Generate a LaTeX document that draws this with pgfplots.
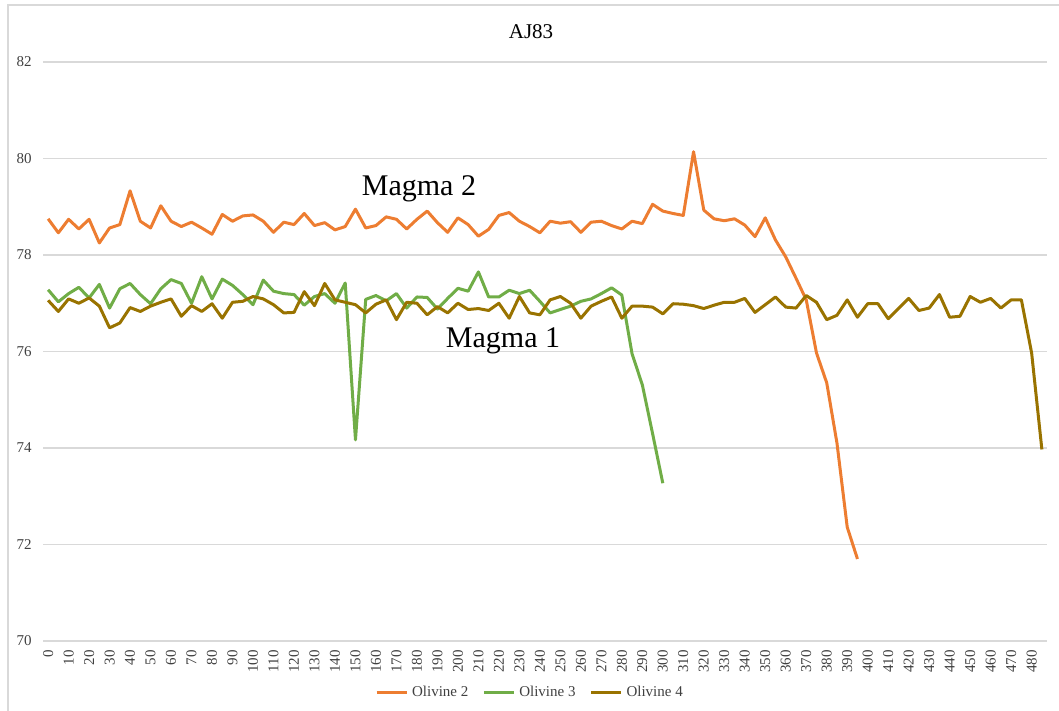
\documentclass[border=0pt]{standalone}
\usepackage{fontspec}
\setmainfont{Liberation Serif}
\usepackage{pgfplots}
\usepackage{pgfplotstable}
\pgfplotsset{compat=1.18}
\definecolor{olivA}{HTML}{ED7D31}
\definecolor{olivB}{HTML}{70AD47}
\definecolor{olivC}{HTML}{997300}
\definecolor{gridc}{HTML}{D9D9D9}
\definecolor{labc}{HTML}{404040}

\pgfplotstableread{
x y
0 78.75
5 78.46
10 78.74
15 78.54
20 78.74
25 78.25
30 78.56
35 78.63
40 79.33
45 78.70
50 78.56
55 79.02
60 78.70
65 78.59
70 78.68
75 78.56
80 78.43
85 78.84
90 78.70
95 78.81
100 78.83
105 78.70
110 78.47
115 78.68
120 78.63
125 78.86
130 78.61
135 78.67
140 78.52
145 78.59
150 78.95
155 78.56
160 78.61
165 78.79
170 78.74
175 78.54
180 78.74
185 78.91
190 78.67
195 78.47
200 78.77
205 78.63
210 78.39
215 78.53
220 78.82
225 78.88
230 78.70
235 78.59
240 78.46
245 78.70
250 78.66
255 78.69
260 78.47
265 78.68
270 78.70
275 78.61
280 78.54
285 78.70
290 78.65
295 79.05
300 78.91
305 78.86
310 78.82
315 80.14
320 78.93
325 78.75
330 78.71
335 78.75
340 78.62
345 78.38
350 78.77
355 78.31
360 77.96
365 77.52
370 77.07
375 75.97
380 75.35
385 74.10
390 72.36
395 71.70
}\olivtwo

\pgfplotstableread{
x y
0 77.28
5 77.03
10 77.20
15 77.33
20 77.11
25 77.39
30 76.90
35 77.30
40 77.41
45 77.18
50 76.99
55 77.30
60 77.49
65 77.41
70 77.00
75 77.55
80 77.09
85 77.50
90 77.37
95 77.18
100 76.97
105 77.48
110 77.25
115 77.20
120 77.18
125 76.96
130 77.14
135 77.20
140 77.00
145 77.42
150 74.17
155 77.08
160 77.16
165 77.05
170 77.20
175 76.90
180 77.13
185 77.12
190 76.88
195 77.10
200 77.31
205 77.25
210 77.65
215 77.13
220 77.13
225 77.27
230 77.20
235 77.27
240 77.04
245 76.80
250 76.87
255 76.94
260 77.04
265 77.09
270 77.20
275 77.32
280 77.17
285 75.95
290 75.31
295 74.30
300 73.27
}\olivthree

\pgfplotstableread{
x y
0 77.06
5 76.83
10 77.09
15 77.00
20 77.11
25 76.94
30 76.49
35 76.59
40 76.91
45 76.83
50 76.94
55 77.02
60 77.09
65 76.73
70 76.95
75 76.83
80 76.99
85 76.69
90 77.02
95 77.04
100 77.14
105 77.09
110 76.97
115 76.80
120 76.81
125 77.24
130 76.95
135 77.41
140 77.07
145 77.02
150 76.97
155 76.80
160 76.98
165 77.07
170 76.66
175 77.02
180 77.00
185 76.76
190 76.93
195 76.80
200 77.00
205 76.87
210 76.89
215 76.85
220 77.00
225 76.69
230 77.14
235 76.80
240 76.76
245 77.07
250 77.14
255 77.00
260 76.69
265 76.94
270 77.04
275 77.13
280 76.69
285 76.94
290 76.94
295 76.92
300 76.78
305 76.99
310 76.98
315 76.95
320 76.89
325 76.96
330 77.02
335 77.02
340 77.10
345 76.81
350 76.97
355 77.13
360 76.92
365 76.90
370 77.16
375 77.02
380 76.66
385 76.75
390 77.07
395 76.71
400 76.99
405 76.99
410 76.68
415 76.89
420 77.10
425 76.85
430 76.90
435 77.18
440 76.71
445 76.73
450 77.14
455 77.02
460 77.10
465 76.90
470 77.07
475 77.07
480 75.97
485 73.97
}\olivfour

\begin{document}
\begin{tikzpicture}
\path[use as bounding box] (-21.5bp,-35bp) rectangle (508bp,320.5bp);
\draw[gridc, line width=0.75bp] (-17.5bp,318bp) rectangle (511bp,-39.5bp);
\begin{axis}[
  scale only axis, width=502bp, height=289.5bp,
  at={(0,0)}, anchor=south west,
  xmin=-2.5, xmax=487.5, ymin=70, ymax=82,
  xtick={0,10,...,480}, ytick={70,72,...,82},
  ymajorgrids, grid style={gridc, line width=0.75bp},
  axis line style={draw=none},
  major tick length=0pt,
  /pgf/number format/assume math mode=true,
  tick label style={font=\fontsize{7.5bp}{9bp}\selectfont, text=labc, inner sep=0pt},
  xticklabel style={rotate=90, anchor=east},
  xticklabel shift=4.5bp,
  yticklabel style={anchor=east},
  yticklabel shift=5.5bp,
  legend style={at={(0.486,-0.0898)}, anchor=center, draw=none, fill=none,
    font=\fontsize{7.5bp}{9bp}\selectfont, text=labc,
    /tikz/every even column/.append style={column sep=5bp}},
  legend columns=3,
  legend image code/.code={\draw[#1] (0bp,0bp) -- (15bp,0bp);},
  every axis plot/.append style={line width=1.5bp, line join=round, mark=none},
]
\addplot[olivA] table[x=x,y=y] {\olivtwo};
\addlegendentry{Olivine 2}
\addplot[olivB] table[x=x,y=y] {\olivthree};
\addlegendentry{Olivine 3}
\addplot[olivC] table[x=x,y=y] {\olivfour};
\addlegendentry{Olivine 4}
\node[font=\fontsize{15bp}{17bp}\selectfont] at (axis cs:181,79.37) {Magma 2};
\node[font=\fontsize{15bp}{17bp}\selectfont] at (axis cs:222,76.22) {Magma 1};
\end{axis}
\node[font=\fontsize{10.5bp}{12bp}\selectfont, text=black] at (244bp,304.5bp) {AJ83};
\end{tikzpicture}
\end{document}
